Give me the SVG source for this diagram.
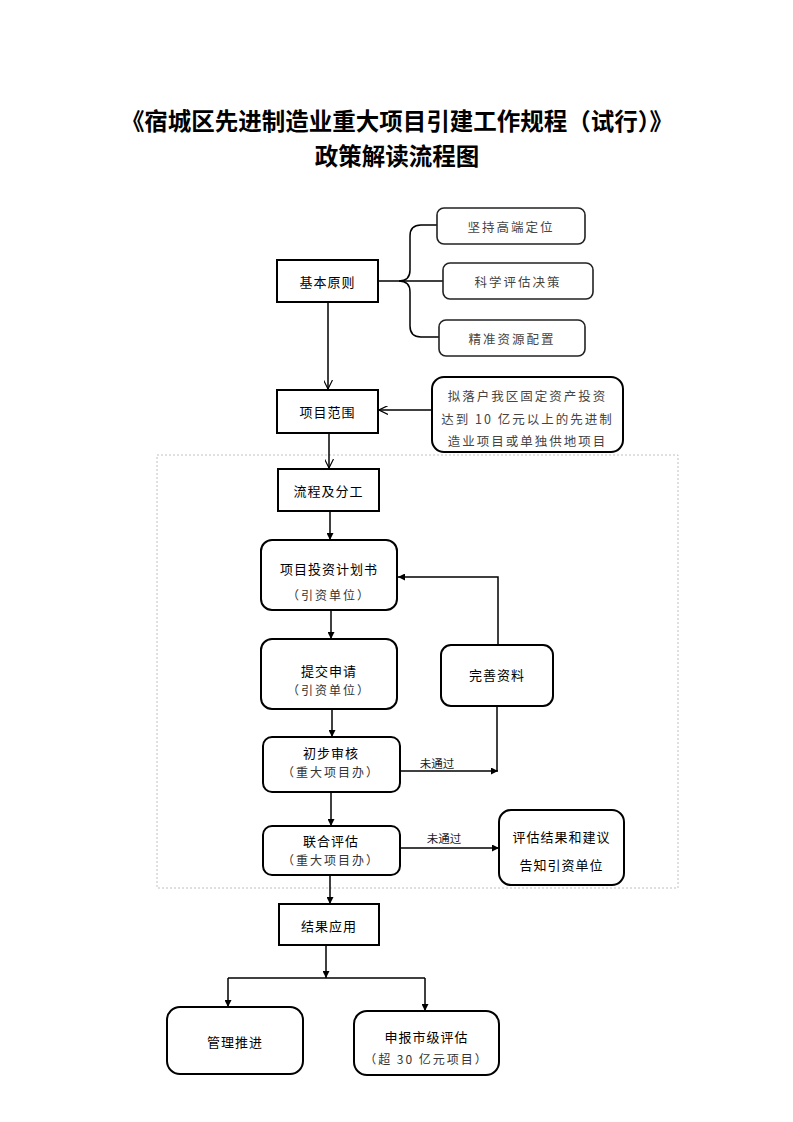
<svg xmlns="http://www.w3.org/2000/svg" width="793" height="1122" viewBox="0 0 793 1122">
<style>
.title{font-family:"Noto Sans CJK SC","Liberation Serif",serif;font-weight:bold;font-size:23.5px;fill:#000;text-anchor:middle}
.box{fill:#fff;stroke:#000;stroke-width:2}
.sbox{fill:#fff;stroke:#222;stroke-width:1.6}
.lbl{font-family:"Noto Sans CJK SC","Liberation Sans",sans-serif;font-size:13px;fill:#000;text-anchor:middle;dominant-baseline:central;letter-spacing:1px}
.sub{font-family:"Noto Sans CJK SC","Liberation Sans",sans-serif;font-size:12px;fill:#333;text-anchor:middle;dominant-baseline:central;letter-spacing:2px}
.thin{font-family:"Noto Sans CJK SC","Liberation Sans",sans-serif;font-size:12.5px;fill:#444;text-anchor:middle;dominant-baseline:central;letter-spacing:2px}
.small{font-family:"Noto Sans CJK SC","Liberation Sans",sans-serif;font-size:11.5px;fill:#222;text-anchor:middle;dominant-baseline:central}
.ln{fill:none;stroke:#000;stroke-width:1.5}
.fa{marker-end:url(#fill)}
.oa{marker-end:url(#open)}
</style>
<defs>
<marker id="fill" viewBox="0 0 10 10" refX="10" refY="5" markerWidth="7" markerHeight="7" markerUnits="userSpaceOnUse" orient="auto"><path d="M0,0 L10,5 L0,10 z" fill="#000"/></marker>
<marker id="open" viewBox="0 0 10 10" refX="10" refY="5" markerWidth="9" markerHeight="9" markerUnits="userSpaceOnUse" orient="auto"><path d="M0,0 L10,5 L0,10" fill="none" stroke="#000" stroke-width="1.3"/></marker>
</defs>
<rect width="793" height="1122" fill="#fff"/>
<text class="title" x="397" y="130">《宿城区先进制造业重大项目引建工作规程（试行）》</text>
<text class="title" x="397" y="165">政策解读流程图</text>

<rect x="157" y="455" width="521" height="433" fill="none" stroke="#c0c0c0" stroke-width="1" stroke-dasharray="2 2"/>

<g id="connectors">
<path class="ln" d="M378 281 H443"/>
<path class="ln" d="M437 225 H421 Q410 225 410 236 V270 Q410 281 399 281 Q410 281 410 292 V326 Q410 337 421 337 H439"/>
<path class="ln oa" d="M328 302 V389"/>
<path class="ln oa" d="M432 410 H379"/>
<path class="ln oa" d="M329 433 V468"/>
<path class="ln fa" d="M330 511 V540"/>
<path class="ln fa" d="M331 610 V639"/>
<path class="ln fa" d="M332 709 V737"/>
<path class="ln fa" d="M331 792 V826"/>
<path class="ln fa" d="M330 875 V904"/>
<path class="ln fa" d="M498 645 V577 H398"/>
<path class="ln fa" d="M400 771 H498"/>
<path class="ln" d="M497 706 V771"/>
<path class="ln fa" d="M400 848 H499"/>
<path class="ln fa" d="M326 945 V978"/>
<path class="ln" d="M228 978 H425"/>
<path class="ln fa" d="M228 978 V1007"/>
<path class="ln fa" d="M425 978 V1011"/>
<text class="small" x="437" y="763">未通过</text>
<text class="small" x="444" y="838">未通过</text>
</g>

<g id="n-jbyz"><rect class="box" x="277" y="260" width="101" height="42"/><text class="lbl" x="327.5" y="281">基本原则</text></g>
<g id="n-jcgd"><rect class="sbox" x="437" y="208" width="148" height="36" rx="7"/><text class="thin" x="511" y="226">坚持高端定位</text></g>
<g id="n-kxpg"><rect class="sbox" x="443" y="263" width="150" height="36" rx="7"/><text class="thin" x="518" y="281">科学评估决策</text></g>
<g id="n-jzzy"><rect class="sbox" x="439" y="320" width="146" height="36" rx="7"/><text class="thin" x="512" y="338">精准资源配置</text></g>
<g id="n-xmfw"><rect class="box" x="277" y="390" width="101" height="43"/><text class="lbl" x="327.5" y="411">项目范围</text></g>
<g id="n-nlh"><rect class="box" x="432" y="377" width="191" height="75" rx="12"/>
<text class="thin" x="527.5" y="395">拟落户我区固定资产投资</text>
<text class="thin" x="527.5" y="418">达到 10 亿元以上的先进制</text>
<text class="thin" x="527.5" y="440">造业项目或单独供地项目</text></g>
<g id="n-lcfg"><rect class="box" x="278" y="469" width="101" height="42"/><text class="lbl" x="328.5" y="490">流程及分工</text></g>
<g id="n-xmtz"><rect class="box" x="261" y="540" width="136" height="70" rx="11"/><text class="lbl" x="329" y="568">项目投资计划书</text><text class="sub" x="329" y="594">（引资单位）</text></g>
<g id="n-tjsq"><rect class="box" x="261" y="639" width="136" height="70" rx="11"/><text class="lbl" x="329" y="670">提交申请</text><text class="sub" x="329" y="689">（引资单位）</text></g>
<g id="n-wszl"><rect class="box" x="441" y="645" width="112" height="61" rx="10"/><text class="lbl" x="497" y="674">完善资料</text></g>
<g id="n-cbsh"><rect class="box" x="263" y="737" width="137" height="55" rx="9"/><text class="lbl" x="331" y="752">初步审核</text><text class="sub" x="331" y="771">（重大项目办）</text></g>
<g id="n-lhpg"><rect class="box" x="263" y="826" width="137" height="49" rx="9"/><text class="lbl" x="331" y="840">联合评估</text><text class="sub" x="331" y="859">（重大项目办）</text></g>
<g id="n-pgjg"><rect class="box" x="499" y="810" width="125" height="75" rx="12"/><text class="lbl" x="561.5" y="836">评估结果和建议</text><text class="lbl" x="561.5" y="864">告知引资单位</text></g>
<g id="n-jgyy"><rect class="box" x="279" y="904" width="100" height="41"/><text class="lbl" x="329" y="925">结果应用</text></g>
<g id="n-gltj"><rect class="box" x="167" y="1007" width="136" height="67" rx="13"/><text class="lbl" x="235" y="1041">管理推进</text></g>
<g id="n-sbsj"><rect class="box" x="354" y="1011" width="145" height="64" rx="13"/><text class="lbl" x="426.5" y="1036">申报市级评估</text><text class="sub" x="426.5" y="1058">（超 30 亿元项目）</text></g>
</svg>
